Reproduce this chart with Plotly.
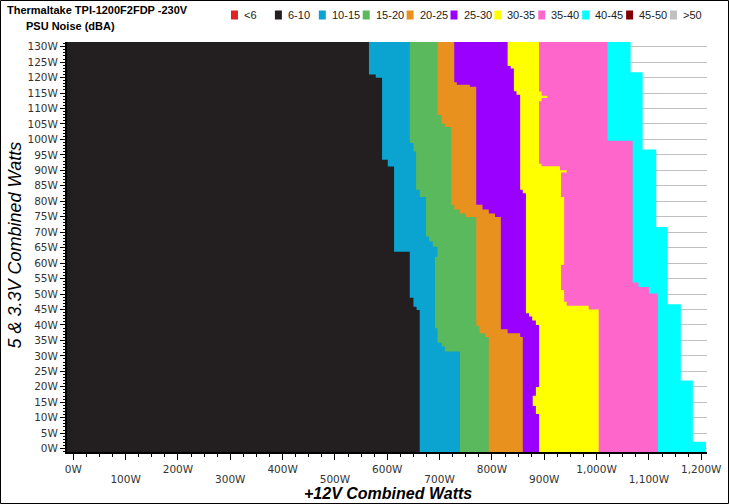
import plotly.graph_objects as go

# ---------------- data ----------------
chart_title = "Thermaltake TPI-1200F2FDP -230V"
chart_subtitle = "PSU Noise (dBA)"
x_title = "+12V Combined Watts"
y_title = "5 & 3.3V Combined Watts"

band_labels = ["<6", "6-10", "10-15", "15-20", "20-25", "25-30",
               "30-35", "35-40", "40-45", "45-50", ">50"]
band_colors = ["#e02424", "#231f20", "#0ba3cf", "#5ab85d", "#e8911f", "#9a00ff",
               "#ffff00", "#ff66cc", "#00ffff", "#800000", "#c0c0c0"]

# Right edge (+12V watts) of each noise band, as a step function of the
# 5V & 3.3V load: a row starting at edge_y[i] extends to edge_x[i].
edge_6_10_y = [-1.1, 44.8, 45.9, 48.8, 63.7, 91.2, 93.4, 119.9, 121.0]
edge_6_10_x = [662, 656, 650, 643, 613, 601, 590, 578, 565]

edge_10_15_y = [-1.1, 31.4, 33.0, 34.2, 38.9, 62.0, 65.3, 67.0, 68.6, 81.4, 83.7, 96.1, 98.8]
edge_10_15_x = [739, 710, 704, 696, 691, 696, 687, 680, 674, 662, 655, 650, 643]

edge_15_20_y = [-1.1, 36.1, 37.3, 39.7, 74.9, 76.0, 77.3, 78.9, 104.0, 105.1, 107.9]
edge_15_20_x = [794, 787, 776, 770, 750, 739, 728, 722, 710, 704, 696]

edge_20_25_y = [-1.1, 36.1, 37.3, 38.6, 74.9, 76.0, 77.3, 78.9, 117.0, 117.7, 118.5]
edge_20_25_x = [859, 854, 830, 817, 806, 794, 782, 770, 758, 733, 728]

edge_25_30_y = [-1.1, 11.2, 13.8, 17.1, 19.9, 40.0, 41.4, 42.7, 43.8, 82.6, 83.7,
                114.4, 115.6, 122.9, 123.7]
edge_25_30_x = [890, 884, 878, 884, 890, 884, 877, 871, 865, 859, 854,
                847, 842, 836, 830]

edge_30_35_y = [-1.1, 45.0, 46.2, 47.5, 51.3, 59.4, 81.4, 89.3, 90.0, 91.3, 92.1,
                112.3, 113.4, 114.1, 115.5]
edge_30_35_x = [1004, 985, 943, 938, 932, 938, 932, 943, 930, 895, 890,
                895, 906, 895, 890]

edge_35_40_y = [-1.1, 50.2, 52.3, 53.7, 99.6]
edge_35_40_x = [1117, 1100, 1080, 1069, 1021]

edge_40_45_y = [-1.1, 2.2, 22.0, 46.7, 71.7, 96.7, 121.7]
edge_40_45_x = [1209, 1184, 1161, 1136, 1114, 1088, 1065]

data_top = 131.5
x_start = -12

x_tick_vals = list(range(0, 1201, 100))
x_tick_text = ["0W", "100W", "200W", "300W", "400W", "500W", "600W",
               "700W", "800W", "900W", "1,000W", "1,100W", "1,200W"]
y_tick_vals = list(range(0, 131, 5))
y_tick_text = [f"{v}W" for v in y_tick_vals]

# ---------------- figure ----------------
W, H = 729, 504
ML, MR, MT, MB = 67, 22, 42, 52
PW, PH = W - ML - MR, H - MT - MB


def px_x(p):
    return (p - ML) / PW


def px_y(p):
    return (H - MB - p) / PH


def band_polygon(ys, xs):
    px, py = [x_start], [ys[0]]
    for i, x in enumerate(xs):
        y0 = ys[i]
        y1 = ys[i + 1] if i + 1 < len(ys) else data_top
        px += [x, x]
        py += [y0, y1]
    px += [x_start, x_start]
    py += [data_top, ys[0]]
    return px, py


edges = {
    "6-10": (edge_6_10_y, edge_6_10_x),
    "10-15": (edge_10_15_y, edge_10_15_x),
    "15-20": (edge_15_20_y, edge_15_20_x),
    "20-25": (edge_20_25_y, edge_20_25_x),
    "25-30": (edge_25_30_y, edge_25_30_x),
    "30-35": (edge_30_35_y, edge_30_35_x),
    "35-40": (edge_35_40_y, edge_35_40_x),
    "40-45": (edge_40_45_y, edge_40_45_x),
}

fig = go.Figure()
# draw widest band first, narrower ones on top
for label in reversed(list(edges.keys())):
    ys, xs = edges[label]
    pxs, pys = band_polygon(ys, xs)
    color = band_colors[band_labels.index(label)]
    fig.add_trace(go.Scatter(
        x=pxs, y=pys, mode="lines", fill="toself", fillcolor=color,
        line=dict(width=0, color=color), name=label, hoverinfo="name",
        showlegend=False))

# empty trace so that the second (odd-label) x axis is drawn
fig.add_trace(go.Scatter(x=[None], y=[None], xaxis="x2", yaxis="y",
                         mode="markers", showlegend=False, hoverinfo="skip"))

tick_font = dict(family="DejaVu Sans", size=10.5, color="#333333")

even_text = [t if i % 2 == 0 else "" for i, t in enumerate(x_tick_text)]
odd_vals = [v for i, v in enumerate(x_tick_vals) if i % 2 == 1]
odd_text = [t for i, t in enumerate(x_tick_text) if i % 2 == 1]

fig.update_layout(
    width=W, height=H,
    margin=dict(l=ML, r=MR, t=MT, b=MB),
    paper_bgcolor="white", plot_bgcolor="white",
    showlegend=False,
    xaxis=dict(
        range=[x_start, 1211], tickmode="array", tickvals=x_tick_vals, ticktext=even_text,
        ticks="outside", ticklen=6, tickwidth=1, tickcolor="black",
        showline=True, linecolor="black", linewidth=2,
        showgrid=False, zeroline=False, tickfont=tick_font, automargin=False,
        minor=dict(dtick=25, tick0=0, ticks="outside", ticklen=3,
                   tickcolor="black", showgrid=False),
    ),
    xaxis2=dict(
        overlaying="x", anchor="y", side="bottom", range=[x_start, 1211],
        tickmode="array", tickvals=odd_vals, ticktext=odd_text, ticks="",
        showline=False, showgrid=False, zeroline=False, tickfont=tick_font,
        ticklabelstandoff=19, automargin=False,
    ),
    yaxis=dict(
        range=[-1.1, data_top], tickmode="array", tickvals=y_tick_vals, ticktext=y_tick_text,
        ticks="outside", ticklen=5, tickwidth=1, tickcolor="black",
        showline=True, linecolor="black", linewidth=2,
        showgrid=True, gridcolor="#c0c0c0", gridwidth=1, zeroline=False,
        tickfont=tick_font, automargin=False,
        minor=dict(dtick=1, tick0=0, ticks="outside", ticklen=2,
                   tickcolor="black", showgrid=False),
    ),
)

annotations = [
    dict(text=chart_title, x=px_x(5), y=px_y(10.5), xref="paper", yref="paper",
         xanchor="left", yanchor="middle", showarrow=False,
         font=dict(family="Liberation Sans", size=11, color="black", weight="bold")),
    dict(text=chart_subtitle, x=px_x(23.5), y=px_y(26), xref="paper", yref="paper",
         xanchor="left", yanchor="middle", showarrow=False,
         font=dict(family="Liberation Sans", size=11, color="black", weight="bold")),
    dict(text=x_title, x=px_x(388), y=px_y(493), xref="paper", yref="paper",
         xanchor="center", yanchor="middle", showarrow=False,
         font=dict(family="Liberation Sans", size=16, color="black",
                   weight="bold", style="italic")),
    dict(text=y_title, x=px_x(14.5), y=px_y(245), xref="paper", yref="paper",
         xanchor="center", yanchor="middle", showarrow=False, textangle=-90,
         font=dict(family="Liberation Sans", size=18, color="black", style="italic")),
]

shapes = []
for i, (lab, col) in enumerate(zip(band_labels, band_colors)):
    sx = 231 + 43.9 * i
    shapes.append(dict(type="rect", xref="paper", yref="paper",
                       x0=px_x(sx), x1=px_x(sx + 7), y0=px_y(19.5), y1=px_y(10.5),
                       fillcolor=col, line=dict(width=0)))
    annotations.append(dict(text=lab, x=px_x(sx + 11), y=px_y(15), xref="paper", yref="paper",
                            xanchor="left", yanchor="middle", showarrow=False,
                            font=dict(family="Liberation Sans", size=11, color="#222222")))

# outer frame of the picture
shapes.append(dict(type="rect", xref="paper", yref="paper",
                   x0=px_x(0.5), x1=px_x(W - 0.5), y0=px_y(H - 0.5), y1=px_y(0.5),
                   line=dict(color="black", width=1), fillcolor="rgba(0,0,0,0)"))

fig.update_layout(annotations=annotations, shapes=shapes)

fig.write_html("out.html",
               config={"displayModeBar": False},
               post_script="document.body.style.margin='0px';document.body.style.overflow='hidden';")
